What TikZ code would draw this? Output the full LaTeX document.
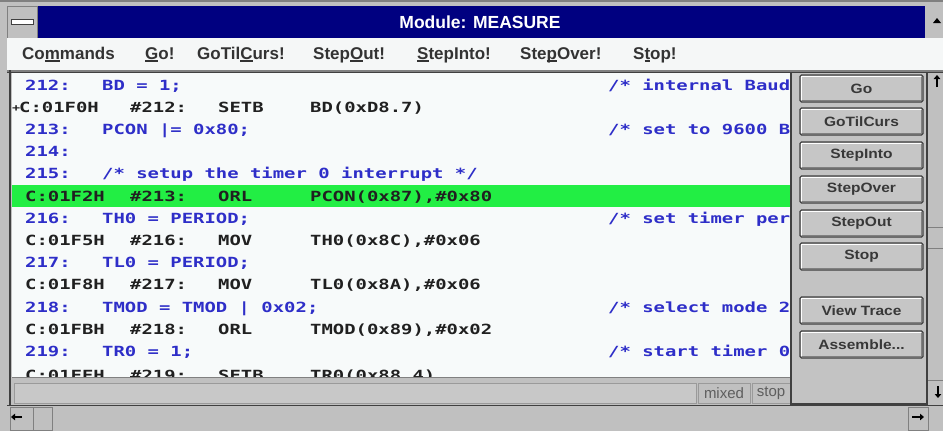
\documentclass[tikz,border=0pt]{standalone}
\usepackage{fontspec}
\setmainfont{Liberation Sans}
\newfontfamily\codefont[FakeStretch=1.35]{DejaVu Sans Mono}
\newfontfamily\btnfont[FakeStretch=1.15]{Liberation Sans}
\usetikzlibrary{arrows.meta}
\definecolor{wingrey}{HTML}{C0C0C0}
\definecolor{titleblue}{HTML}{000080}
\definecolor{menubg}{HTML}{F5F7F7}
\definecolor{codebg}{HTML}{F7FAFA}
\definecolor{srcblue}{HTML}{2E2EC8}
\definecolor{asmblack}{HTML}{202020}
\definecolor{higreen}{HTML}{22EE44}
\definecolor{darkline}{HTML}{404040}
\definecolor{midline}{HTML}{808080}
\definecolor{btngrey}{HTML}{C6C6C6}
\definecolor{btntext}{HTML}{383838}
\definecolor{menutext}{HTML}{333333}
\definecolor{stattext}{HTML}{5E5E5E}
\definecolor{fieldgrey}{HTML}{C8C8C8}
\newcommand\mnu[1]{\setbox0\hbox{#1}\rlap{\rule[-2.5pt]{\wd0}{1.2pt}}#1}
\newcommand\srcrow[5]{%
  \node[srctxt] (#1n) at (25,#2) {#3};
  \node[srctxt] (#1s) at (102,#2) {#4};
  \node[srctxt] (#1c) at (608,#2) {#5};}
\newcommand\asmrow[6]{%
  \node[asmtxt] (#1a) at (25,#2) {#3};
  \node[asmtxt] (#1n) at (130,#2) {#4};
  \node[asmtxt] (#1o) at (218,#2) {#5};
  \node[asmtxt] (#1p) at (310,#2) {#6};}
\tikzset{
  codetxt/.style={anchor=base west, inner sep=0pt, font=\codefont\bfseries\fontsize{14}{14}\selectfont},
  srctxt/.style={codetxt, text=srcblue},
  asmtxt/.style={codetxt, text=asmblack},
  menuitem/.style={anchor=base west, inner sep=0pt, text=menutext, font=\bfseries\fontsize{17}{17}\selectfont},
  btn/.style={draw=darkline, line width=1.2pt, fill=btngrey, rounded corners=1.5pt,
    minimum width=123pt, minimum height=27pt, inner sep=0pt, text=btntext,
    font=\btnfont\bfseries\fontsize{13.5}{13.5}\selectfont},
  stattxt/.style={inner sep=0pt, text=stattext, font=\fontsize{15}{15}\selectfont},
  scrollarrow/.style={line width=1.6pt, -{Triangle[length=4pt,width=6.5pt]}}
}
\begin{document}
\begin{tikzpicture}[x=1pt,y=-1pt]
\useasboundingbox (0,0) rectangle (943,431);
% window background
\fill[wingrey] (0,0) rectangle (943,431);
\fill[midline] (0,0) rectangle (943,1.5);
% title bar
\fill[titleblue] (37,6) rectangle (925,38);
\node[text=white, font=\bfseries\fontsize{17.5}{17.5}\selectfont, inner sep=0pt] (title) at (480,22) {Module: MEASURE};
% system menu box
\draw[midline, fill=wingrey] (7,6) rectangle (37,38);
\draw[darkline, fill=white, line width=1pt] (11,19.5) rectangle (33,24.5);
% maximize button
\fill[wingrey] (925,6) rectangle (943,38);
\fill[black] (933,23) -- (941,23) -- (937,18) -- cycle;
% menu bar
\fill[menubg] (7,38) rectangle (943,70);
\fill[midline] (7,70) rectangle (943,73);
\draw[darkline, line width=1pt] (7,72.5) -- (943,72.5);
\node[menuitem] (mcmd) at (22,59) {Co\mnu{m}mands};
\node[menuitem] (mgo) at (145,59) {\mnu{G}o!};
\node[menuitem] (mgtc) at (197,59) {GoTil\mnu{C}urs!};
\node[menuitem] (mout) at (313,59) {Step\mnu{O}ut!};
\node[menuitem] (minto) at (417,59) {\mnu{S}tepInto!};
\node[menuitem] (mover) at (520,59) {Ste\mnu{p}Over!};
\node[menuitem] (mstop) at (633,59) {S\mnu{t}op!};
% code area
\fill[codebg] (12,73) rectangle (790,377);
\fill[higreen] (12,185) rectangle (790,207);
\draw[darkline, line width=2pt] (10,70) -- (10,431);
\begin{scope}
\clip (12,73) rectangle (790,377);
\srcrow{r0}{90}{212:}{BD = 1;}{/* internal Baudr}
\node[asmtxt, font=\codefont\bfseries\fontsize{10}{10}\selectfont] (r1m) at (12,111) {+};
\node[asmtxt] (r1a) at (19,112.2) {C:01F0H};
\node[asmtxt] (r1n) at (130,112.2) {\#212:};
\node[asmtxt] (r1o) at (218,112.2) {SETB};
\node[asmtxt] (r1p) at (310,112.2) {BD(0xD8.7)};
\srcrow{r2}{134.4}{213:}{PCON |= 0x80;}{/* set to 9600 Ba}
\node[srctxt] (r3n) at (25,156.6) {214:};
\node[srctxt] (r4n) at (25,178.8) {215:};
\node[srctxt] (r4s) at (102,178.8) {/* setup the timer 0 interrupt */};
\asmrow{r5}{201}{C:01F2H}{\#213:}{ORL}{PCON(0x87),\#0x80}
\srcrow{r6}{223.2}{216:}{TH0 = PERIOD;}{/* set timer peri}
\asmrow{r7}{245.4}{C:01F5H}{\#216:}{MOV}{TH0(0x8C),\#0x06}
\node[srctxt] (r8n) at (25,267.6) {217:};
\node[srctxt] (r8s) at (102,267.6) {TL0 = PERIOD;};
\asmrow{r9}{289.8}{C:01F8H}{\#217:}{MOV}{TL0(0x8A),\#0x06}
\srcrow{r10}{312}{218:}{TMOD = TMOD | 0x02;}{/* select mode 2}
\asmrow{r11}{334.2}{C:01FBH}{\#218:}{ORL}{TMOD(0x89),\#0x02}
\srcrow{r12}{356.4}{219:}{TR0 = 1;}{/* start timer 0}
\asmrow{r13}{380.5}{C:01FEH}{\#219:}{SETB}{TR0(0x88.4)}
\end{scope}
% status bar
\fill[wingrey] (12,377) rectangle (790,405);
\draw[midline, line width=1pt] (12,377.5) -- (790,377.5);
\draw[midline!80, fill=fieldgrey] (14,383) rectangle (696,403);
\draw[midline!80] (698,383) rectangle (750,403);
\draw[midline!80] (752,383) rectangle (790,403);
\node[stattxt] (smixed) at (724,393) {mixed};
\node[stattxt] (sstop) at (771,393) {stop};
% button panel
\fill[wingrey!95!white] (790,73) rectangle (928,405);
\draw[darkline, line width=2pt] (791,73) -- (791,404) -- (927,404) -- (927,73);
\node[btn] (bgo) at (861.5,88.5) {Go};
\node[btn] (bgtc) at (861.5,121.5) {GoTilCurs};
\node[btn] (bsi) at (861.5,155.5) {StepInto};
\node[btn] (bsov) at (861.5,189.5) {StepOver};
\node[btn] (bsout) at (861.5,223.5) {StepOut};
\node[btn] (bstop) at (861.5,256.5) {Stop};
\node[btn] (bvt) at (861.5,310.5) {View Trace};
\node[btn] (basm) at (861.5,344.5) {Assemble...};
\foreach \b in {bgo,bgtc,bsi,bsov,bsout,bstop,bvt,basm} {
  \draw[white, line width=1.2pt] ([xshift=2.2pt,yshift=2.5pt]\b.south west) -- ([xshift=2.2pt,yshift=-2.2pt]\b.north west) -- ([xshift=-2.5pt,yshift=-2.2pt]\b.north east);
  \draw[midline, line width=1.2pt] ([xshift=2.5pt,yshift=2.2pt]\b.south west) -- ([xshift=-2.2pt,yshift=2.2pt]\b.south east) -- ([xshift=-2.2pt,yshift=-2.5pt]\b.north east);
}
% vertical scroll bar
\fill[wingrey] (928,73) rectangle (943,405);
\draw[midline, line width=1pt] (928,227) -- (943,227);
\draw[midline, line width=1pt] (928,248) -- (943,248);
\draw[midline, line width=1pt] (928,380) -- (943,380);
\coordinate (upA) at (937,87);
\coordinate (upB) at (937,75);
\draw[scrollarrow] (upA) -- (upB);
\coordinate (dnA) at (938,386);
\coordinate (dnB) at (938,398);
\draw[scrollarrow] (dnA) -- (dnB);
% horizontal scroll bar
\fill[wingrey] (7,405) rectangle (943,431);
\draw[darkline, line width=1.5pt] (7,405.5) -- (943,405.5);
\draw[midline, line width=1pt] (10,407) rectangle (33,430);
\draw[midline, line width=1pt] (33,407) rectangle (52,430);
\draw[midline, line width=1pt] (908,407) rectangle (928,430);
\coordinate (ltA) at (22,417);
\coordinate (ltB) at (11,417);
\draw[scrollarrow] (ltA) -- (ltB);
\coordinate (rtA) at (912,417);
\coordinate (rtB) at (924,417);
\draw[scrollarrow] (rtA) -- (rtB);
\end{tikzpicture}
\end{document}
